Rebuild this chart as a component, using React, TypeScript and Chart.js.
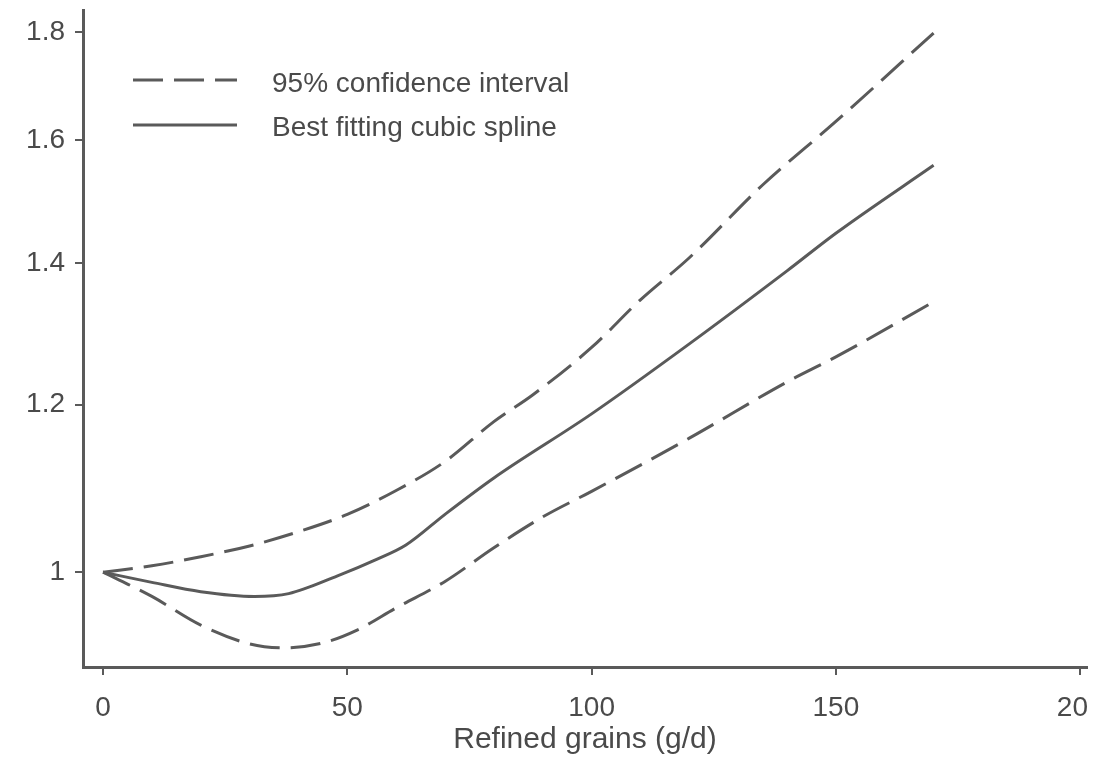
import React, { useEffect, useRef } from "react";
import { Chart, registerables } from "chart.js";

Chart.register(...registerables);

// ---- Data ----
const mainX = [0, 10, 20, 31, 38, 48, 56, 62, 70, 80, 100, 120, 140, 150, 170];
const mainY = [1, 0.989, 0.979, 0.974, 0.977, 0.996, 1.014, 1.03, 1.065, 1.108, 1.188, 1.282, 1.388, 1.446, 1.557];

const upperX = [0, 10, 20, 30, 40, 50, 60, 70, 80, 88, 100, 110, 120, 135, 150, 170];
const upperY = [1, 1.007, 1.017, 1.029, 1.045, 1.065, 1.093, 1.128, 1.178, 1.213, 1.277, 1.345, 1.408, 1.524, 1.633, 1.798];

const lowerX = [0, 10, 20, 30, 37, 45, 52, 60, 70, 80, 90, 100, 120, 140, 150, 170];
const lowerY = [1, 0.974, 0.944, 0.925, 0.921, 0.926, 0.939, 0.962, 0.99, 1.027, 1.062, 1.092, 1.157, 1.23, 1.264, 1.342];

const xTicks = [0, 50, 100, 150, 200];
const yTicks = [1, 1.2, 1.4, 1.6, 1.8];
const xTickLabels = ["0", "50", "100", "150", "20  "];
const yTickLabels = ["1", "1.2", "1.4", "1.6", "1.8"];

const ciLabel = "95% confidence interval";
const splineLabel = "Best fitting cubic spline";
const xTitle = "Refined grains (g/d)";

const toPoints = (xs: number[], ys: number[]) => xs.map((x, i) => ({ x, y: ys[i] }));

const LINE = "#5a5a5a";
const TEXT = "#4a4a4a";
const FONT = "'Liberation Sans', Arial, sans-serif";
const DASH = [30, 11];

const legendPlugin = {
  id: "inlineLegend",
  afterDatasetsDraw(chart: any) {
    const ctx = chart.ctx;
    const entries = [
      { ds: 0, lineY: 80, baseY: 92 },
      { ds: 2, lineY: 125, baseY: 136 },
    ];
    ctx.save();
    for (const e of entries) {
      const d = chart.data.datasets[e.ds];
      ctx.strokeStyle = d.borderColor;
      ctx.lineWidth = d.borderWidth;
      ctx.setLineDash(d.borderDash || []);
      ctx.beginPath();
      ctx.moveTo(133, e.lineY);
      ctx.lineTo(237, e.lineY);
      ctx.stroke();
      ctx.setLineDash([]);
      ctx.fillStyle = TEXT;
      ctx.font = `28px ${FONT}`;
      ctx.textAlign = "left";
      ctx.textBaseline = "alphabetic";
      ctx.fillText(d.label, 272, e.baseY);
    }
    ctx.restore();
  },
};

export default function App() {
  const ref = useRef<HTMLCanvasElement | null>(null);

  useEffect(() => {
    if (!ref.current) return;
    const lineStyle = {
      borderColor: LINE,
      borderWidth: 3,
      pointRadius: 0,
      cubicInterpolationMode: "monotone",
      fill: false,
    };
    const chart = new Chart(ref.current, {
      type: "line",
      data: {
        datasets: [
          { label: ciLabel, data: toPoints(upperX, upperY), borderDash: DASH, ...lineStyle },
          { label: ciLabel, data: toPoints(lowerX, lowerY), borderDash: DASH, ...lineStyle },
          { label: splineLabel, data: toPoints(mainX, mainY), ...lineStyle },
        ],
      },
      options: {
        animation: false,
        responsive: false,
        devicePixelRatio: 1,
        layout: { padding: { left: 0, top: 10, right: 17, bottom: 0 } },
        plugins: {
          legend: { display: false },
          tooltip: { enabled: false },
        },
        scales: {
          x: {
            type: "linear",
            min: -4.1,
            max: 201.4,
            afterBuildTicks: (s: any) => {
              s.ticks = xTicks.map((v) => ({ value: v }));
            },
            afterFit: (s: any) => {
              s.height = 95;
              s.paddingLeft = 0;
              s.paddingRight = 0;
            },
            grid: {
              drawOnChartArea: false,
              drawTicks: true,
              tickLength: 8,
              color: LINE,
              lineWidth: 2,
            },
            border: { display: true, color: LINE, width: 3 },
            ticks: {
              color: TEXT,
              font: { family: FONT, size: 28 },
              padding: 16,
              maxRotation: 0,
              autoSkip: false,
              callback: (v: any) => {
                const i = xTicks.indexOf(Number(v));
                return i >= 0 ? xTickLabels[i] : "";
              },
            },
            title: {
              display: true,
              text: xTitle,
              color: TEXT,
              font: { family: FONT, size: 30, lineHeight: 1.2 },
              padding: { top: 0, bottom: 4 },
            },
          },
          y: {
            type: "logarithmic",
            min: 0.902,
            max: 1.8436,
            afterBuildTicks: (s: any) => {
              s.ticks = yTicks.map((v) => ({ value: v }));
            },
            afterFit: (s: any) => {
              s.width = 83;
              s.paddingTop = 0;
              s.paddingBottom = 0;
            },
            grid: {
              drawOnChartArea: false,
              drawTicks: true,
              tickLength: 8,
              color: LINE,
              lineWidth: 2,
            },
            border: { display: true, color: LINE, width: 3 },
            ticks: {
              color: TEXT,
              font: { family: FONT, size: 28 },
              padding: 10,
              autoSkip: false,
              callback: (v: any) => {
                const i = yTicks.findIndex((t) => Math.abs(t - Number(v)) < 1e-9);
                return i >= 0 ? yTickLabels[i] : "";
              },
            },
          },
        },
      },
      plugins: [legendPlugin],
    } as any);
    return () => chart.destroy();
  }, []);

  return (
    <div style={{ position: "fixed", left: 0, top: 0, width: 1104, height: 762, background: "#fff" }}>
      <canvas ref={ref} width={1104} height={762} style={{ display: "block" }} />
    </div>
  );
}
